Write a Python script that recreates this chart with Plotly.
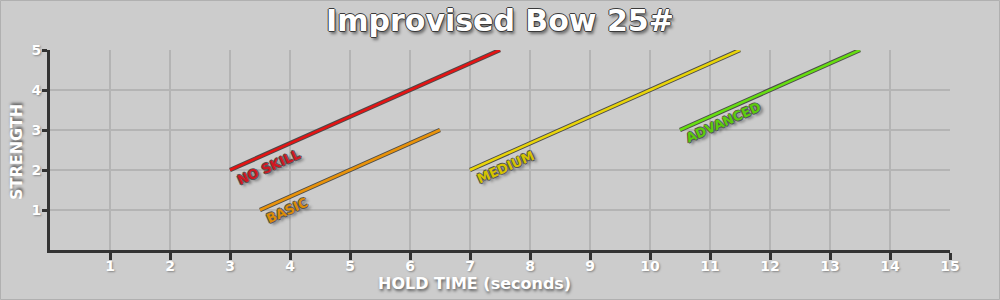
import plotly.graph_objects as go

# ---- data ----
skill_levels = ["NO SKILL", "BASIC", "MEDIUM", "ADVANCED"]
hold_start = [3.0, 3.5, 7.0, 10.5]
hold_end = [7.5, 6.5, 11.5, 13.5]
strength_start = [2, 1, 2, 3]
strength_end = [5, 3, 5, 5]
x_ticks = list(range(1, 16))
y_ticks = list(range(1, 6))

# ---- styles ----
line_colors = ["#e41414", "#e8920a", "#e8d40a", "#66dd11"]
label_colors = ["#d01822", "#dc8c06", "#d6c400", "#5ccc0a"]
label_shift = [(38, 3), (27, 0), (35, 3), (43, 8)]  # px offset of label centre from line start
outline = "#4a4a4a"
bg = "#cccccc"
grid = "#b4b4b4"
axis_col = "#333333"

def outline_shadow(c, blur=True):
    s = f"1px 0 0 {c}, -1px 0 0 {c}, 0 1px 0 {c}, 0 -1px 0 {c}"
    if blur:
        s += ", 2px 3px 3px rgba(0,0,0,0.45)"
    return s

fig = go.Figure()

for i, name in enumerate(skill_levels):
    xs = [hold_start[i], hold_end[i]]
    ys = [strength_start[i], strength_end[i]]
    fig.add_trace(go.Scatter(x=xs, y=ys, mode="lines", showlegend=False,
                             hoverinfo="skip",
                             line=dict(color=outline, width=4.5)))
    fig.add_trace(go.Scatter(x=xs, y=ys, mode="lines", name=name,
                             showlegend=False,
                             line=dict(color=line_colors[i], width=2.5)))
    fig.add_annotation(x=hold_start[i], y=strength_start[i], xref="x", yref="y",
                       text=f"<b>{name}</b>", showarrow=False, textangle=-24,
                       xanchor="center", yanchor="middle",
                       xshift=label_shift[i][0], yshift=label_shift[i][1],
                       font=dict(family="DejaVu Sans", size=13,
                                 color=label_colors[i],
                                 shadow=outline_shadow("#555555")))

# axis titles
fig.add_annotation(x=(474 - 50) / 900, y=(250 - 283) / 200, xref="paper", yref="paper",
                   text="<b>HOLD TIME (seconds)</b>", showarrow=False,
                   xanchor="center", yanchor="middle",
                   font=dict(family="DejaVu Sans", size=16, color="white",
                             shadow="1px 2px 3px rgba(0,0,0,0.55)"))
fig.add_annotation(x=(16 - 50) / 900, y=(250 - 152) / 200, xref="paper", yref="paper",
                   text="<b>STRENGTH</b>", showarrow=False, textangle=-90,
                   xanchor="center", yanchor="middle",
                   font=dict(family="DejaVu Sans", size=16, color="white",
                             shadow="2px 1px 3px rgba(0,0,0,0.55)"))

# outer border
fig.add_shape(type="rect", xref="paper", yref="paper",
              x0=(0.5 - 50) / 900, x1=(999.5 - 50) / 900,
              y0=(250 - 299.5) / 200, y1=(250 - 0.5) / 200,
              line=dict(color="#b0b0b0", width=1), layer="below")

tick_font = dict(family="DejaVu Sans", size=14, color="white", weight="bold",
                 shadow="1px 1px 2px rgba(0,0,0,0.35)")

fig.update_layout(
    width=1000, height=300,
    margin=dict(l=50, r=50, t=50, b=50),
    paper_bgcolor=bg, plot_bgcolor=bg,
    title=dict(text="<b>Improvised Bow 25#</b>", x=0.5, xanchor="center",
               y=1 - 20 / 300, yanchor="middle", yref="container",
               font=dict(family="DejaVu Sans", size=30, color="white",
                         shadow=outline_shadow("#3a3a3a"))),
    xaxis=dict(range=[0, 15], tickvals=x_ticks, ticktext=[str(v) for v in x_ticks],
               showgrid=True, gridcolor=grid, gridwidth=2,
               showline=True, linecolor=axis_col, linewidth=3,
               ticks="outside", ticklen=7, tickwidth=2.5, tickcolor=axis_col,
               ticklabelstandoff=-6,
               zeroline=False, tickfont=tick_font),
    yaxis=dict(range=[0, 5], tickvals=y_ticks, ticktext=[str(v) for v in y_ticks],
               showgrid=True, gridcolor=grid, gridwidth=2,
               showline=True, linecolor=axis_col, linewidth=3,
               ticks="outside", ticklen=5, tickwidth=2.5, tickcolor=axis_col,
               ticklabelstandoff=-2,
               zeroline=False, tickfont=tick_font),
)

fig.write_html("out.html")
